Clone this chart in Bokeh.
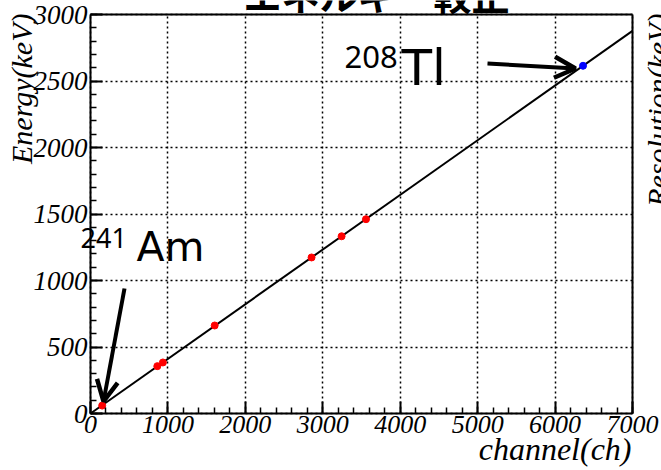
import numpy as np
from bokeh.plotting import figure
from bokeh.models import Range1d, Label, Arrow, OpenHead, FixedTicker, LinearAxis
from bokeh.embed import file_html
from bokeh.resources import INLINE

# ---- data ----
cal_channels = [151, 863, 935, 1604, 2855, 3243, 3558]
cal_energies = [59.5, 356.0, 383.8, 661.7, 1173.2, 1332.5, 1460.8]
tl_channel = [6361]
tl_energy = [2614.5]
x_ticks = [0, 1000, 2000, 3000, 4000, 5000, 6000, 7000]
y_ticks = [0, 500, 1000, 1500, 2000, 2500, 3000]
title_text = "エネルギー較正"
x_title = "channel(ch)"
y_title = "Energy(keV)"
y2_title = "Resolution(keV)"

# ---- layout (pixel geometry of the plotting box) ----
W, H = 661, 470
L, R, T, B = 90, 632, 14, 413
XMAX, YMAX = 7000, 3000


def dx(px):
    return (px - L) / (R - L) * XMAX


def dy(py):
    return (B - py) / (B - T) * YMAX


def base(py, size):
    # correction so that the text baseline lands at pixel row py
    return py - 0.4 * size


p = figure(width=W, height=H, x_range=Range1d(dx(0), dx(W)), y_range=Range1d(dy(H), dy(0)),
           output_backend="svg", toolbar_location=None, title=None,
           min_border_left=0, min_border_right=0, min_border_top=0, min_border_bottom=0,
           x_axis_location=None, y_axis_location=None)
p.background_fill_color = "white"
p.border_fill_color = "white"
p.outline_line_color = None

minor_x = list(range(0, XMAX + 1, 200))
minor_y = list(range(0, YMAX + 1, 100))

xaxis = LinearAxis(fixed_location=0, bounds=(0, XMAX),
                   ticker=FixedTicker(ticks=x_ticks, minor_ticks=minor_x))
yaxis = LinearAxis(fixed_location=0, bounds=(0, YMAX),
                   ticker=FixedTicker(ticks=y_ticks, minor_ticks=minor_y))
p.add_layout(xaxis, "below")
p.add_layout(yaxis, "left")
xaxis.major_label_overrides = {t: str(t) for t in x_ticks}
yaxis.major_label_overrides = {t: str(t) for t in y_ticks}

for ax in (xaxis, yaxis):
    ax.axis_line_width = 2
    ax.axis_line_color = "black"
    ax.major_tick_in = 12
    ax.major_tick_out = 0
    ax.minor_tick_in = 6
    ax.minor_tick_out = 0
    ax.major_tick_line_width = 2
    ax.minor_tick_line_width = 1.5
    ax.major_tick_line_color = "black"
    ax.minor_tick_line_color = "black"
    ax.major_label_text_font = "Liberation Serif"
    ax.major_label_text_font_style = "italic"
    ax.major_label_text_font_size = "26px"
    ax.major_label_text_color = "black"
yaxis.major_label_text_font_size = "27px"
xaxis.major_label_standoff = 2
yaxis.major_label_standoff = 3

# frame edges (top / right) as tick-less axes
top_ax = LinearAxis(fixed_location=YMAX, bounds=(0, XMAX), ticker=FixedTicker(ticks=[]))
right_ax = LinearAxis(fixed_location=XMAX, bounds=(0, YMAX), ticker=FixedTicker(ticks=[]))
for ax in (top_ax, right_ax):
    ax.axis_line_width = 2
    ax.axis_line_color = "black"
    ax.major_tick_line_color = None
    ax.minor_tick_line_color = None
p.add_layout(top_ax, "above")
p.add_layout(right_ax, "right")

# dotted grid
p.xgrid.ticker = FixedTicker(ticks=x_ticks)
p.ygrid.ticker = FixedTicker(ticks=y_ticks)
p.xgrid.bounds = (0, XMAX)
p.xgrid.cross_bounds = (0, YMAX)
p.ygrid.bounds = (0, YMAX)
p.ygrid.cross_bounds = (0, XMAX)
for g in (p.xgrid[0], p.ygrid[0]):
    g.grid_line_color = "black"
    g.grid_line_dash = "2 3"
    g.grid_line_width = 1.5

# fit line through all calibration points
all_ch = np.array(cal_channels + tl_channel, dtype=float)
all_e = np.array(cal_energies + tl_energy, dtype=float)
slope, icpt = np.polyfit(all_ch, all_e, 1)
fx = [0, XMAX]
fy = [icpt + slope * v for v in fx]
p.line(fx, fy, line_color="black", line_width=2)

p.scatter(cal_channels, cal_energies, size=7, color="#ff0000", line_color="#ff0000")
p.scatter(tl_channel, tl_energy, size=7, color="#0000ff", line_color="#0000ff")


def white_box(x0, y0, x1, y1):
    lab = Label(x=dx((x0 + x1) / 2), y=dy((y0 + y1) / 2), text="M",
                text_font_size="2px", text_alpha=0, text_align="center",
                text_baseline="middle", background_fill_color="white",
                background_fill_alpha=0.72,
                padding=dict(left=int((x1 - x0) / 2), right=int((x1 - x0) / 2),
                             top=int((y1 - y0) / 2), bottom=int((y1 - y0) / 2)))
    p.add_layout(lab)


white_box(47, 207, 205, 290)
white_box(337, 30, 472, 95)

# arrows
p.add_layout(Arrow(end=OpenHead(size=21, line_width=4.5, line_color="black"),
                   x_start=dx(124), y_start=dy(288), x_end=dx(103), y_end=dy(401),
                   line_width=4, line_color="black"))
p.add_layout(Arrow(end=OpenHead(size=21, line_width=4.5, line_color="black"),
                   x_start=dx(487), y_start=dy(63), x_end=dx(575), y_end=dy(68),
                   line_width=4, line_color="black"))


def txt(px, py, text, font, size, style="normal", align="left", angle=0.0):
    if angle == 0.0:
        xx, yy = dx(px), dy(base(py, size))
    else:
        xx, yy = dx(base(px, size)), dy(py)
    p.add_layout(Label(x=xx, y=yy, text=text, text_font=font, text_font_size=f"{size}px",
                       text_font_style=style, text_color="black", text_align=align,
                       text_baseline="alphabetic", angle=angle))


# source labels
txt(80, 248, "241", "Noto Sans", 27)
txt(136, 263, "Am", "DejaVu Sans", 41)
txt(344, 69, "208", "Noto Sans", 31)
txt(401, 87, "Tl", "DejaVu Sans", 50)

# titles
txt(376, 8, title_text, "Noto Sans CJK JP", 38, style="bold", align="center")
txt(631, 461, x_title, "Liberation Serif", 32, style="italic", align="right")
txt(33, 13, y_title, "Liberation Serif", 30, style="italic", align="right", angle=np.pi / 2)
txt(669, 13, y2_title, "Liberation Serif", 30, style="italic", align="right", angle=np.pi / 2)

open("out.html", "w").write(file_html(p, INLINE))
